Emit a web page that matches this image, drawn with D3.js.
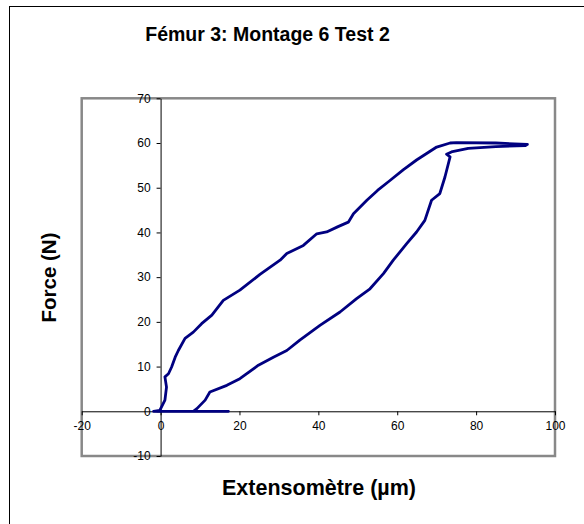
<html>
<head>
  <meta charset="utf-8">
  <script src="https://d3js.org/d3.v7.min.js"></script>
  <style>
    body { margin: 0; background: #fff; }
    text { font-family: "Liberation Sans", Arial, sans-serif; fill: #000; }
    .tick-label { font-size: 12px; }
    .title, .axis-title { font-weight: bold; }
  </style>
</head>
<body>
<svg id="chart" width="584" height="524"></svg>
<script>
// extensometer reading (µm) and force (N) in drawing order
var extenso = [17.2, 8.3, -1.8, -0.2, 1.1, 1.5, 1.1, 2.0, 2.8, 3.7, 4.5, 6.2, 8.3, 10.4, 13.0, 15.9, 20.1, 25.2, 30.3, 32.0, 36.2, 39.6, 42.1, 45.0, 47.6, 48.9, 52.3, 55.0, 58.0, 61.5, 64.9, 70.0, 73.4, 75.0, 85.0, 93.0,
  92.5, 85.0, 78.0, 74.0, 72.5, 73.4, 72.1, 70.8, 68.7, 67.0, 64.9, 62.4, 59.0, 56.5, 53.1, 49.7, 45.5, 40.4, 35.3, 32.0, 28.6, 24.8, 20.1, 16.8, 12.5, 11.3, 9.2, 8.3];
var force = [0, 0, 0, 0.2, 2.5, 5.4, 7.7, 8.4, 9.9, 12.1, 13.6, 16.3, 17.7, 19.6, 21.5, 24.8, 27.1, 30.6, 33.8, 35.3, 37.1, 39.7, 40.1, 41.3, 42.3, 44.2, 47.2, 49.4, 51.5, 54.0, 56.2, 59.1, 60.0, 60.1, 60.0, 59.7,
  59.4, 59.2, 58.8, 58.1, 57.5, 56.9, 52.4, 48.7, 47.2, 42.7, 40.1, 37.5, 33.8, 30.8, 27.4, 25.2, 22.2, 19.2, 15.9, 13.6, 12.1, 10.3, 7.3, 5.8, 4.3, 2.5, 0.6, 0];

var xTicks = [-20, 0, 20, 40, 60, 80, 100];
var yTicks = [-10, 0, 10, 20, 30, 40, 50, 60, 70];

var svg = d3.select("#chart");

var x = d3.scaleLinear().domain([-20, 100]).range([81.7, 555]);
var y = d3.scaleLinear().domain([-10, 70]).range([456, 98.3]);

// chart frame (right and bottom edges fall outside the picture)
svg.append("rect")
  .attr("x", 9.5).attr("y", 6.5)
  .attr("width", 600).attr("height", 600)
  .attr("fill", "none").attr("stroke", "#000").attr("stroke-width", 1);

svg.append("text")
  .attr("class", "title")
  .attr("x", 267.5).attr("y", 40.5)
  .attr("text-anchor", "middle")
  .style("font-size", "19.5px")
  .text("Fémur 3: Montage 6 Test 2");

// plot area border
svg.append("rect")
  .attr("x", x(-20)).attr("y", y(70))
  .attr("width", x(100) - x(-20)).attr("height", y(-10) - y(70))
  .attr("fill", "none").attr("stroke", "#888").attr("stroke-width", 2.5);

// axes cross at zero, plain hyphen for negatives like the original
var fmt = function(d) { return String(d); };
var xAxis = svg.append("g")
  .attr("transform", "translate(0," + y(0) + ")")
  .call(d3.axisBottom(x).tickValues(xTicks).tickFormat(fmt).tickSize(4).tickSizeOuter(0).tickPadding(6));
var yAxis = svg.append("g")
  .attr("transform", "translate(" + x(0) + ",0)")
  .call(d3.axisLeft(y).tickValues(yTicks).tickFormat(fmt).tickSize(4).tickSizeOuter(0).tickPadding(6));

[xAxis, yAxis].forEach(function(g) {
  g.select(".domain").attr("stroke", "#000").attr("stroke-width", 1);
  g.selectAll(".tick line").attr("stroke", "#000");
  g.selectAll(".tick text")
    .attr("class", "tick-label")
    .style("font-family", "'Liberation Sans', Arial, sans-serif")
    .style("font-size", "12px")
    .attr("fill", "#000");
});

var line = d3.line()
  .x(function(d) { return x(d[0]); })
  .y(function(d) { return y(d[1]); });

svg.append("path")
  .datum(d3.zip(extenso, force))
  .attr("d", line)
  .attr("fill", "none")
  .attr("stroke", "#000080")
  .attr("stroke-width", 2.8)
  .attr("stroke-linejoin", "round")
  .attr("stroke-linecap", "round");

svg.append("text")
  .attr("class", "axis-title")
  .attr("x", 319).attr("y", 495)
  .attr("text-anchor", "middle")
  .style("font-size", "21.5px")
  .text("Extensomètre (µm)");

svg.append("text")
  .attr("class", "axis-title")
  .attr("transform", "translate(56,277.5) rotate(-90)")
  .attr("text-anchor", "middle")
  .style("font-size", "20.5px")
  .text("Force (N)");
</script>
</body>
</html>
